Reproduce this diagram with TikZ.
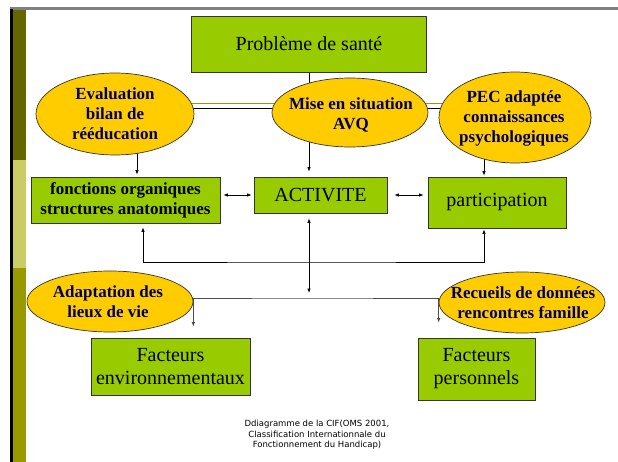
\documentclass[tikz,border=0pt]{standalone}
\usepackage{fontspec}
\setmainfont{Liberation Serif}
\newfontfamily\capfont{DejaVu Sans}
\usepackage{xcolor}
\usepackage{tikz}
\usetikzlibrary{shapes.geometric,arrows.meta,backgrounds}

\definecolor{boxgreen}{HTML}{99CC00}
\definecolor{ovalgold}{HTML}{FFCC00}
\definecolor{navytext}{HTML}{000066}
\definecolor{bardark}{HTML}{666600}
\definecolor{barlight}{HTML}{CCCC66}
\definecolor{barolive}{HTML}{999900}

\begin{document}
\begin{tikzpicture}[x=1pt,y=-1pt,>={Latex[length=4.5pt,width=3.5pt]},
    greenbox/.style={draw=black!80,line width=0.8pt,fill=boxgreen,align=center,inner sep=0pt,font=\fontsize{20}{23}\selectfont},
    oval/.style={ellipse,draw=black!80,line width=0.7pt,fill=ovalgold,inner sep=0pt},
    ovaltext/.style={align=center,text=navytext,font=\bfseries\fontsize{17}{20}\selectfont},
    link/.style={black,line width=0.7pt}]
    \useasboundingbox (0,0) rectangle (618,462);
    \fill[bardark] (12.7,10) rectangle (26,160);
    \fill[barlight] (12.7,160) rectangle (26,268);
    \fill[barolive] (12.7,268) rectangle (26,462);
    \draw[gray,line width=2.5pt] (10,8.7) -- (618,8.7);
    \draw[black,line width=2.5pt] (11.3,9) -- (11.3,462);

    \node[greenbox,minimum width=235pt,minimum height=56pt] (prob) at (309,44) {Problème de santé};

    \node[oval,minimum width=158pt,minimum height=82pt] (eval) at (115,114) {};
    \node[ovaltext] (evalT) at (115,114) {Evaluation\\bilan de\\rééducation};
    \node[oval,minimum width=156pt,minimum height=69pt] (mise) at (350,112.5) {};
    \node[ovaltext] (miseT) at (351,115) {Mise en situation\\AVQ};
    \node[oval,minimum width=152pt,minimum height=91pt] (pec) at (515,117.5) {};
    \node[ovaltext] (pecT) at (514,118) {PEC adaptée\\connaissances\\psychologiques};

    \node[greenbox,minimum width=189pt,minimum height=46pt,font=\bfseries\fontsize{17}{20}\selectfont] (fonc) at (125.5,200) {fonctions organiques\\structures anatomiques};
    \node[greenbox,minimum width=133pt,minimum height=36pt] (act) at (320.5,195) {ACTIVITE};
    \node[greenbox,minimum width=138pt,minimum height=51pt] (part) at (497,202.5) {participation};

    \node[oval,minimum width=166pt,minimum height=61pt] (adap) at (110,301.5) {};
    \node[ovaltext] (adapT) at (108,302) {Adaptation des\\lieux de vie};
    \node[oval,minimum width=166pt,minimum height=61pt] (recu) at (522,302.5) {};
    \node[ovaltext] (recuT) at (523,302.5) {Recueils de données\\rencontres famille};

    \node[greenbox,minimum width=159pt,minimum height=57pt] (env) at (170.5,366.5) {Facteurs\\environnementaux};
    \node[greenbox,minimum width=117pt,minimum height=62pt] (pers) at (476.5,369) {Facteurs\\personnels};

    \node[align=center,font=\capfont\fontsize{8.5}{10.5}\selectfont] (caption) at (317,435) {Ddiagramme de la CIF(OMS 2001,\\Classification Internationnale du\\Fonctionnement du Handicap)};

    \coordinate (dblA) at (0,104);
    \coordinate (dblB) at (0,109);
    \coordinate (loop) at (309,262);
    \coordinate (hub) at (309,298);

    \begin{scope}[on background layer]
        \draw[barolive,line width=1pt] (eval.center |- dblA) -- (pec.center |- dblA);
        \draw[black,line width=1pt] (eval.center |- dblB) -- (pec.center |- dblB);
        \draw[link] (prob.south) -- (prob.south |- mise.center);
        \draw[link,->,shorten >=5pt] (prob.south |- mise.center) -- (prob.south |- act.north);
        \draw[link,->,shorten >=2pt] ([xshift=22pt]eval.center) -- ([xshift=22pt]eval.center |- fonc.north);
        \draw[link,->,shorten >=1pt] ([xshift=-31pt]pec.center) -- ([xshift=-31pt]pec.center |- part.north);
    \end{scope}

    \draw[link,<->,shorten <=3pt,shorten >=2pt] (fonc.east |- act.west) -- (act.west);
    \draw[link,<->,shorten <=7pt,shorten >=4pt] (act.east |- act.west) -- (part.west |- act.west);
    \draw[link,<->,shorten <=4pt,shorten >=1pt] ([xshift=17.5pt]fonc.south) |- (loop) -| ([xshift=-13pt]part.south);
    \draw[link,<->,shorten <=5pt,shorten >=5pt] (hub |- act.south) -- (hub);
    \draw[black!70,line width=0.8pt,<->,shorten <=11pt,shorten >=15pt] (adap.east |- env.north) |- (hub) -| (recu.west |- pers.north);
\end{tikzpicture}
\end{document}
